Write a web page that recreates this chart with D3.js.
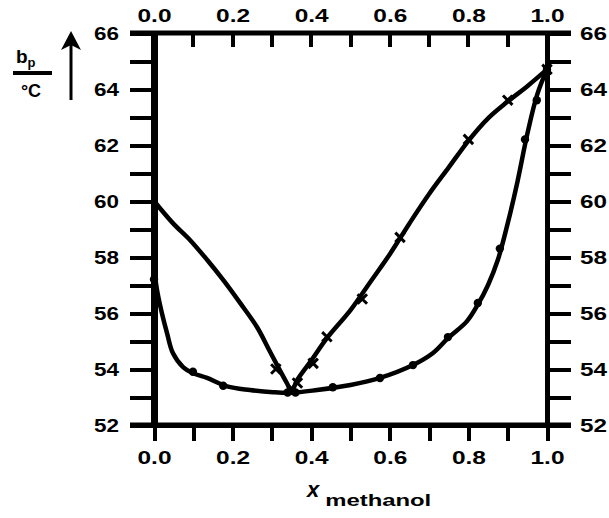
<!DOCTYPE html>
<html>
<head>
<meta charset="utf-8">
<script src="https://cdn.jsdelivr.net/npm/d3@7"></script>
<style>
  html, body { margin: 0; padding: 0; background: #fff; }
  svg { display: block; }
  text { font-family: "Liberation Sans", Arial, sans-serif; font-weight: bold; fill: #000; }
</style>
</head>
<body>
<svg id="chart" width="609" height="518"></svg>
<script>
// Boiling diagram: mole fraction of methanol vs. boiling temperature
const xTicks = [0, 0.1, 0.2, 0.3, 0.4, 0.5, 0.6, 0.7, 0.8, 0.9, 1.0];
const xTickLabels = ["0.0", "", "0.2", "", "0.4", "", "0.6", "", "0.8", "", "1.0"];
const yTicks = [52, 53, 54, 55, 56, 57, 58, 59, 60, 61, 62, 63, 64, 65, 66];
const yTickLabels = ["52", "", "54", "", "56", "", "58", "", "60", "", "62", "", "64", "", "66"];

// dew (vapour) curve
const vapourX = [0, 0.048, 0.092, 0.135, 0.176, 0.219, 0.262, 0.293, 0.32, 0.338, 0.35, 0.364, 0.40, 0.44, 0.50, 0.55, 0.60, 0.65, 0.70, 0.75, 0.80, 0.85, 0.90, 0.95, 1.0];
const vapourT = [60.0, 59.21, 58.6, 57.9, 57.18, 56.36, 55.5, 54.68, 53.96, 53.5, 53.2, 53.6, 54.3, 55.1, 56.1, 57.1, 58.1, 59.2, 60.25, 61.2, 62.15, 62.95, 63.55, 64.1, 64.7];
// measured vapour points
const vapourPtX = [0.31, 0.35, 0.365, 0.405, 0.44, 0.53, 0.626, 0.80, 0.90, 1.0];
const vapourPtT = [54.0, 53.3, 53.5, 54.2, 55.15, 56.5, 58.7, 62.2, 63.6, 64.7];

// boiling (liquid) curve
const liquidX = [0, 0.008, 0.02, 0.033, 0.048, 0.074, 0.10, 0.135, 0.186, 0.244, 0.303, 0.35, 0.415, 0.50, 0.575, 0.659, 0.71, 0.748, 0.796, 0.824, 0.85, 0.875, 0.90, 0.925, 0.95, 0.975, 1.0];
const liquidT = [57.6, 56.8, 56.0, 55.29, 54.57, 54.07, 53.85, 53.68, 53.38, 53.25, 53.17, 53.15, 53.25, 53.43, 53.68, 54.14, 54.57, 55.1, 55.7, 56.3, 57.0, 57.9, 59.2, 60.7, 62.4, 63.8, 64.7];
// measured liquid points
const liquidPtX = [0.0, 0.099, 0.176, 0.34, 0.36, 0.455, 0.575, 0.659, 0.748, 0.824, 0.88, 0.944, 0.974, 1.0];
const liquidPtT = [57.2, 53.9, 53.4, 53.16, 53.16, 53.35, 53.68, 54.14, 55.14, 56.36, 58.3, 62.2, 63.6, 64.7];

const svg = d3.select("#chart");
const plotLeft = 154, plotRight = 547, plotTop = 33, plotBottom = 425;

const x = d3.scaleLinear().domain([0, 1]).range([plotLeft, plotRight]);
const y = d3.scaleLinear().domain([52, 66]).range([plotBottom, plotTop]);

function styleAxis(g, domainWidth, tickWidth, labelWidth) {
  g.select(".domain").attr("stroke", "#000").attr("stroke-width", domainWidth);
  g.selectAll(".tick line").attr("stroke", "#000").attr("stroke-width", tickWidth)
    .attr("shape-rendering", "crispEdges");
  g.selectAll(".tick text")
    .attr("font-size", 19).attr("font-family", "Liberation Sans, Arial, sans-serif")
    .attr("font-weight", "bold").attr("fill", "#000")
    .each(function () {
      if (this.textContent && labelWidth) {
        d3.select(this).attr("textLength", labelWidth).attr("lengthAdjust", "spacingAndGlyphs");
      }
    });
}

// y axes (ticks point outward, 24 px long)
const yLeft = svg.append("g").attr("transform", `translate(${plotLeft},0)`)
  .call(d3.axisLeft(y).tickValues(yTicks).tickSize(24).tickSizeOuter(0).tickPadding(11)
    .tickFormat((d, i) => yTickLabels[i]));
styleAxis(yLeft, 7, 4, 25);

const yRight = svg.append("g").attr("transform", `translate(${plotRight},0)`)
  .call(d3.axisRight(y).tickValues(yTicks).tickSize(24).tickSizeOuter(0).tickPadding(9)
    .tickFormat((d, i) => yTickLabels[i]));
styleAxis(yRight, 5, 4, 27);

// bottom x axis: ticks outward
const xBottom = svg.append("g").attr("transform", `translate(0,${plotBottom})`)
  .call(d3.axisBottom(x).tickValues(xTicks).tickSize(16).tickSizeOuter(0).tickPadding(10)
    .tickFormat((d, i) => xTickLabels[i]));
styleAxis(xBottom, 5, 4, 34);

// top x axis: labels above the frame line
const xTopLabels = svg.append("g").attr("transform", `translate(0,${plotTop})`)
  .call(d3.axisTop(x).tickValues(xTicks).tickSize(0).tickSizeOuter(0).tickPadding(11)
    .tickFormat((d, i) => xTickLabels[i]));
styleAxis(xTopLabels, 0, 0, 34);
xTopLabels.select(".domain").remove();

// frame lines extend past the plot to the ends of the outer ticks
[plotTop, plotBottom].forEach(yy => {
  svg.append("line").attr("x1", plotLeft - 24).attr("x2", plotRight + 24)
    .attr("y1", yy).attr("y2", yy).attr("stroke", "#000").attr("stroke-width", 5);
});

// curves
const line = d3.line().x(d => x(d[0])).y(d => y(d[1])).curve(d3.curveCatmullRom.alpha(0.5));
const vapour = vapourX.map((v, i) => [v, vapourT[i]]);
const liquid = liquidX.map((v, i) => [v, liquidT[i]]);

svg.append("path").datum(vapour).attr("d", line)
  .attr("fill", "none").attr("stroke", "#000").attr("stroke-width", 4.5).attr("stroke-linejoin", "round");

svg.append("path").datum(liquid).attr("d", line)
  .attr("fill", "none").attr("stroke", "#000").attr("stroke-width", 4.5).attr("stroke-linejoin", "round");

// measurement markers
svg.append("g").selectAll("path")
  .data(vapourPtX.map((v, i) => [v, vapourPtT[i]]))
  .join("path")
  .attr("transform", d => `translate(${x(d[0])},${y(d[1])})`)
  .attr("d", d3.symbol().type(d3.symbolTimes).size(60))
  .attr("fill", "none").attr("stroke", "#000").attr("stroke-width", 3);

svg.append("g").selectAll("path")
  .data(liquidPtX.map((v, i) => [v, liquidPtT[i]]))
  .join("path")
  .attr("transform", d => `translate(${x(d[0])},${y(d[1])})`)
  .attr("d", d3.symbol().type(d3.symbolCircle).size(55))
  .attr("fill", "#000");

// x-axis title
const xt = svg.append("text").attr("x", 307).attr("y", 497);
xt.append("tspan").attr("font-size", 22).attr("font-style", "italic").text("x");
xt.append("tspan").attr("font-size", 16).attr("dy", 9).attr("dx", 6)
  .attr("textLength", 106).attr("lengthAdjust", "spacingAndGlyphs").text("methanol");

// y-axis title: fraction b_p / °C with upward arrow
const yt = svg.append("text").attr("x", 16).attr("y", 63);
yt.append("tspan").attr("font-size", 19).text("b");
yt.append("tspan").attr("font-size", 13).attr("dy", 4).text("p");
svg.append("line").attr("x1", 13).attr("x2", 52).attr("y1", 73).attr("y2", 73)
  .attr("stroke", "#000").attr("stroke-width", 4);
svg.append("text").attr("x", 31).attr("y", 97).attr("text-anchor", "middle")
  .attr("font-size", 18).text("°C");

svg.append("line").attr("x1", 71).attr("x2", 71).attr("y1", 100).attr("y2", 44)
  .attr("stroke", "#000").attr("stroke-width", 3);
svg.append("path").attr("d", "M71,31 L61,50 L71,45 L81,50 Z").attr("fill", "#000");

// top x axis: ticks hanging into the plot from the frame line
svg.append("path")
  .attr("class", "top-ticks")
  .attr("d", xTicks.map(d => `M${Math.round(x(d))},${plotTop}V${plotTop + 14}`).join(""))
  .attr("fill", "none")
  .attr("stroke", "#000")
  .attr("stroke-width", 4);
</script>
</body>
</html>
